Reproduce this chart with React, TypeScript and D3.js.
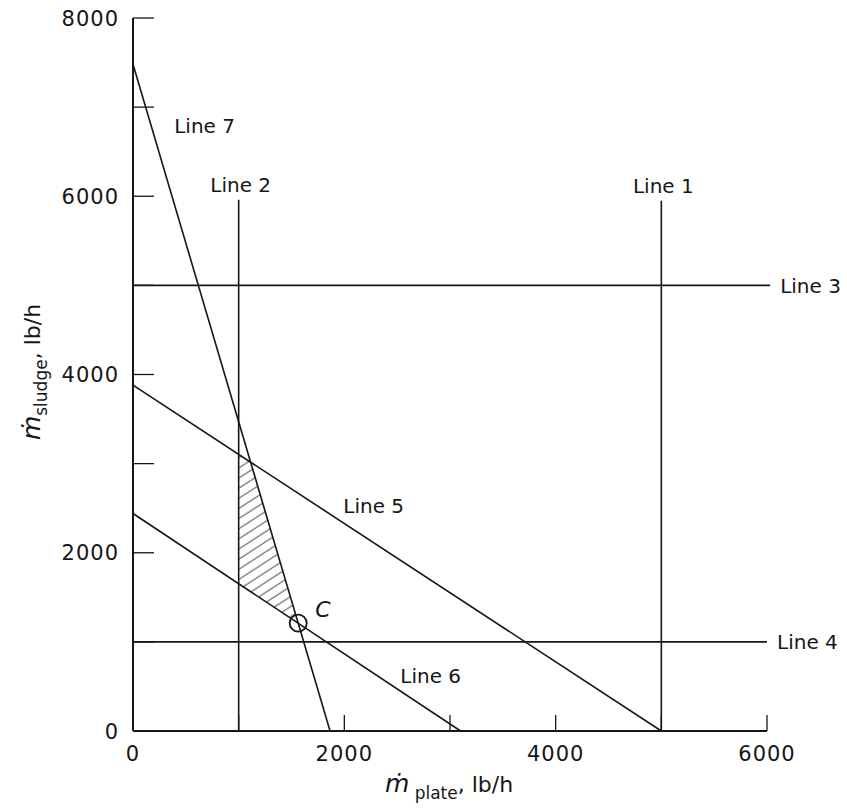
import React from 'react';
import * as d3 from 'd3';

// axis ticks
const xTickLabels = [0, 2000, 4000, 6000];
const yTickLabels = [0, 2000, 4000, 6000, 8000];
const xMinorTicks = [1000, 2000, 3000, 4000, 5000, 6000];
const yMinorTicks = [1000, 2000, 3000, 4000, 5000, 6000, 7000, 8000];

// constraint lines (lb/h)
const verticalLines = [
  { name: 'Line 1', x: 5000, top: 5950 },
  { name: 'Line 2', x: 1000, top: 5960 },
];
const horizontalLines = [
  { name: 'Line 3', y: 5000, end: 6030 },
  { name: 'Line 4', y: 1000, end: 6000 },
];
// sloped lines given by their intercepts
const slopedLines = [
  { name: 'Line 5', yIntercept: 3880, xIntercept: 5000, labelX: 1990, labelY: 2450 },
  { name: 'Line 6', yIntercept: 2440, xIntercept: 3100, labelX: 2530, labelY: 540 },
  { name: 'Line 7', yIntercept: 7480, xIntercept: 1865, labelX: 390, labelY: 6710 },
];

const W = 847;
const H = 812;
const FONT = '"DejaVu Sans", Arial, sans-serif';
const INK = '#161616';

const lineAt = (l: { yIntercept: number; xIntercept: number }, x: number) =>
  l.yIntercept * (1 - x / l.xIntercept);

// intersection of two sloped lines
const cross = (a: typeof slopedLines[0], b: typeof slopedLines[0]) => {
  const sa = a.yIntercept / a.xIntercept;
  const sb = b.yIntercept / b.xIntercept;
  const x = (b.yIntercept - a.yIntercept) / (sb - sa);
  return [x, lineAt(a, x)];
};

export default function App() {
  const x = d3.scaleLinear().domain([0, 6000]).range([133, 767]);
  const y = d3.scaleLinear().domain([0, 8000]).range([731, 18]);

  const [l5, l6, l7] = slopedLines;
  const l2 = verticalLines[1];

  // feasible region: Line 2, Line 5, Line 7, Line 6
  const region = [
    [l2.x, lineAt(l5, l2.x)],
    cross(l5, l7),
    cross(l6, l7),
    [l2.x, lineAt(l6, l2.x)],
  ];
  const pointC = cross(l6, l7);

  const regionPath = d3.line<number[]>()
    .x(d => x(d[0]))
    .y(d => y(d[1]))
    .curve(d3.curveLinearClosed)(region) || '';

  return (
    <svg width={W} height={H} style={{ position: 'absolute', left: 0, top: 0, background: '#fff' }}
      fontFamily={FONT}>
      <defs>
        <pattern id="hatch" width="10" height="8.5" patternUnits="userSpaceOnUse"
          patternTransform="rotate(-33)">
          <line x1="0" y1="4" x2="10" y2="4" stroke="#333" strokeWidth="0.9" />
        </pattern>
      </defs>

      {/* hatched region */}
      <path d={regionPath} fill="url(#hatch)" stroke="none" />

      {/* axes */}
      <line x1={x(0)} x2={x(0)} y1={y(0)} y2={y(8000)} stroke={INK} strokeWidth={2} />
      <line x1={x(0)} x2={x(6000)} y1={y(0)} y2={y(0)} stroke={INK} strokeWidth={2} />
      {yMinorTicks.map(t => (
        <line key={'yt' + t} x1={x(0)} x2={x(0) + 21} y1={y(t)} y2={y(t)} stroke={INK} strokeWidth={1.3} />
      ))}
      {xMinorTicks.map(t => (
        <line key={'xt' + t} x1={x(t)} x2={x(t)} y1={y(0)} y2={y(0) - 16} stroke={INK} strokeWidth={1.3} />
      ))}
      {yTickLabels.map(t => (
        <text key={'yl' + t} x={x(0) - 14} y={y(t)} dy="0.36em" textAnchor="end" fontSize={21}
          letterSpacing={1} fill={INK}>{t}</text>
      ))}
      {xTickLabels.map(t => (
        <text key={'xl' + t} x={x(t)} y={y(0) + 30} textAnchor="middle" fontSize={21}
          letterSpacing={1} fill={INK}>{t}</text>
      ))}

      {/* vertical constraint lines */}
      {verticalLines.map(l => (
        <g key={l.name}>
          <line x1={x(l.x)} x2={x(l.x)} y1={y(0)} y2={y(l.top)} stroke={INK} strokeWidth={1.6} />
          <text x={x(l.x) + 2} y={y(l.top) - 8} textAnchor="middle" fontSize={20} fill={INK}>{l.name}</text>
        </g>
      ))}

      {/* horizontal constraint lines */}
      {horizontalLines.map(l => (
        <g key={l.name}>
          <line x1={x(0)} x2={x(l.end)} y1={y(l.y)} y2={y(l.y)} stroke={INK} strokeWidth={1.6} />
          <text x={x(l.end) + 10} y={y(l.y)} dy="0.36em" fontSize={20} fill={INK}>{l.name}</text>
        </g>
      ))}

      {/* sloped constraint lines */}
      {slopedLines.map(l => (
        <g key={l.name}>
          <line x1={x(0)} x2={x(l.xIntercept)} y1={y(l.yIntercept)} y2={y(0)} stroke={INK} strokeWidth={1.6} />
          <text x={x(l.labelX)} y={y(l.labelY)} fontSize={20} fill={INK}>{l.name}</text>
        </g>
      ))}

      {/* optimum point C */}
      <circle cx={x(pointC[0])} cy={y(pointC[1])} r={8.5} fill="none" stroke={INK} strokeWidth={1.8} />
      <text x={x(pointC[0]) + 17} y={y(pointC[1]) - 6} fontSize={22} fontStyle="italic" fill={INK}>C</text>

      {/* axis titles */}
      <text x={449} y={792} textAnchor="middle" fill={INK}>
        <tspan fontSize={25} fontStyle="italic">ṁ</tspan>
        <tspan fontSize={17} dy={7}> plate</tspan>
        <tspan fontSize={22} dy={-7}>, lb/h</tspan>
      </text>
      <text transform="translate(40,372) rotate(-90)" textAnchor="middle" fill={INK}>
        <tspan fontSize={25} fontStyle="italic">ṁ</tspan>
        <tspan fontSize={17} dy={7}>sludge</tspan>
        <tspan fontSize={22} dy={-7}>, lb/h</tspan>
      </text>
    </svg>
  );
}
